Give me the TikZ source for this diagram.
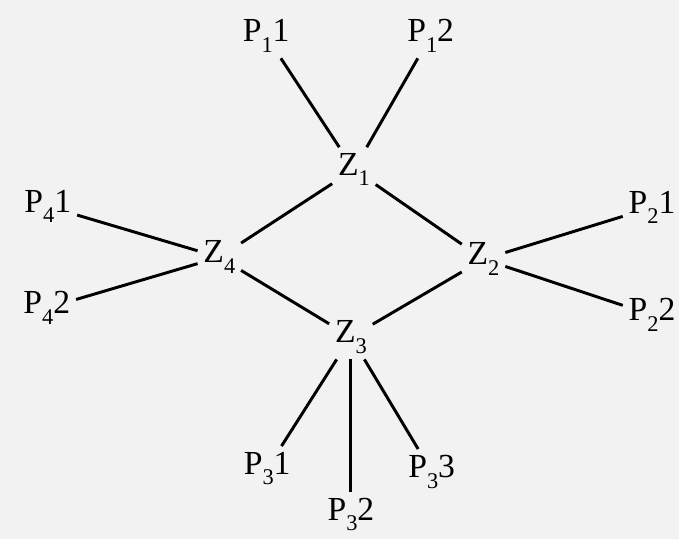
\documentclass[tikz,border=0pt]{standalone}
\usepackage{fontspec}
\setmainfont{Liberation Serif}
% lowered index digit
\newcommand{\ix}[1]{\raisebox{-0.7ex}{\fontsize{16}{16}\selectfont #1}}
\begin{document}
\begin{tikzpicture}[x=0.025cm, y=-0.025cm]
            \fill[black!5] (0,0) rectangle (681,541);
            {
                \tikzset{every node/.style = {inner sep=4pt, font=\fontsize{24}{28}\selectfont}}

                \node (z1) at (355, 170) {Z\ix{1}};
                \node (z2) at (485, 260) {Z\ix{2}};
                \node (z3) at (352, 338) {Z\ix{3}};
                \node (z4) at (220, 258) {Z\ix{4}};
                \node (p11) at (267, 36) {P\ix{1}1};
                \node (p12) at (432, 36) {P\ix{1}2};
                \node (p21) at (654, 208) {P\ix{2}1};
                \node (p22) at (654, 316) {P\ix{2}2};
                \node (p31) at (268, 470) {P\ix{3}1};
                \node (p32) at (352, 516) {P\ix{3}2};
                \node (p33) at (433, 473) {P\ix{3}3};
                \node (p41) at (48, 207) {P\ix{4}1};
                \node (p42) at (47, 309) {P\ix{4}2};
            }

            % plain lines, no arrows
            \tikzset{every path/.style = {line width=2.1pt}}
            \draw (z1) -- (p11);
            \draw (z1) -- (p12);
            \draw (z1) -- (z2);
            \draw (z1) -- (z4);
            \draw (z2) -- (p21);
            \draw (z2) -- (p22);
            \draw (z2) -- (z3);
            \draw (z4) -- (p41);
            \draw (z4) -- (p42);
            \draw (z4) -- (z3);
            \draw (z3) -- (p31);
            \draw (z3) -- (p32);
            \draw (z3) -- (p33);

        \end{tikzpicture}
\end{document}
